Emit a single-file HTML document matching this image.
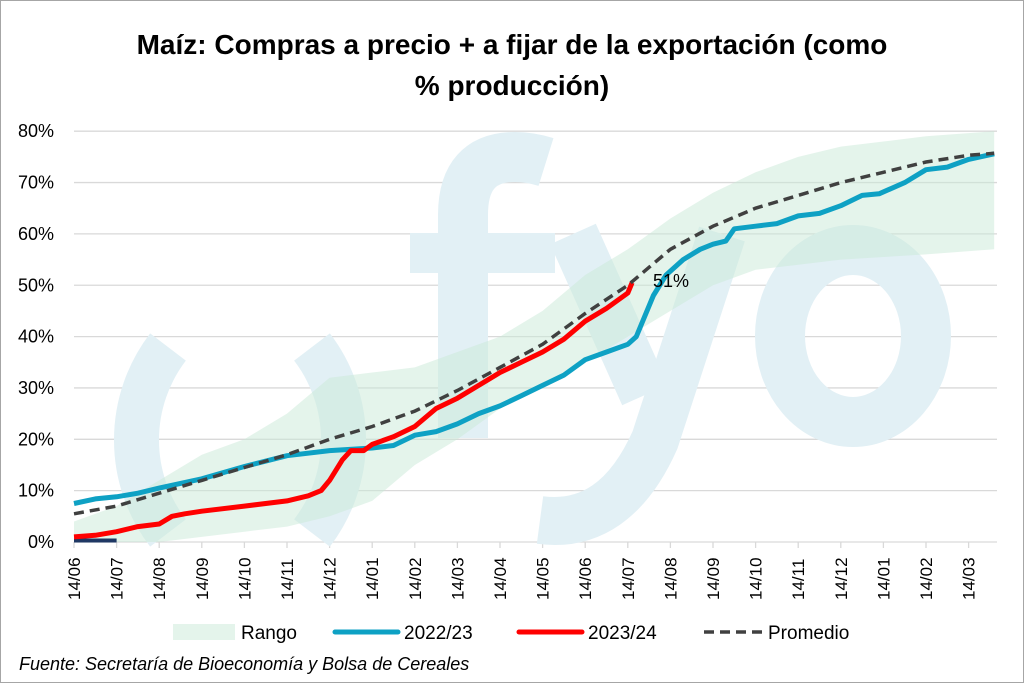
<!DOCTYPE html>
<html><head><meta charset="utf-8"><style>
html,body{margin:0;padding:0;background:#fff}
svg{display:block}
text{font-family:"Liberation Sans","DejaVu Sans",sans-serif}
</style></head><body>
<svg id="s" width="1024" height="683" xmlns="http://www.w3.org/2000/svg">
<rect x="0.5" y="0.5" width="1023" height="682" fill="#fff" stroke="#a6a6a6"/>
<text x="512" y="54" font-size="28" font-weight="bold" text-anchor="middle" fill="#000">Maíz: Compras a precio + a fijar de la exportación (como</text>
<text x="512" y="95" font-size="28" font-weight="bold" text-anchor="middle" fill="#000">% producción)</text>
<g id="grid" stroke="#d9d9d9" stroke-width="1.3"></g>
<g id="wm" fill="none" stroke="#e2f0f5">
<path d="M168,347 A153,153 0 0 0 168,533" stroke-width="45"/>
<path d="M312,347 A153,153 0 0 1 312,533" stroke-width="45"/>
<path d="M463,438 V215 Q463,157 515,157 Q530,157 546,162" stroke-width="50"/>
<rect x="410" y="233" width="145" height="40" fill="#e2f0f5" stroke="none"/>
<path d="M573,234 L645,395" stroke-width="50"/>
<path d="M722,234 L655,440 Q615,530 540,520" stroke-width="48"/>
<ellipse cx="853" cy="336" rx="73" ry="86" stroke-width="50"/>
</g>
<path id="band" fill="#c9ead7" fill-opacity="0.5"/>
<path id="navy" fill="none" stroke="#1f3864" stroke-width="4"/>
<path id="blue" fill="none" stroke="#0ea1c4" stroke-width="5" stroke-linejoin="round"/>
<path id="red" fill="none" stroke="#ff0000" stroke-width="5" stroke-linejoin="round"/>
<path id="avg" fill="none" stroke="#404040" stroke-width="3.5" stroke-dasharray="10,6"/>
<text x="653" y="287" font-size="18" fill="#000">51%</text>
<g id="ylab" font-size="18" fill="#000" text-anchor="end"></g>
<g id="xlab" font-size="17" fill="#000"></g>
<rect x="173" y="624" width="62" height="16" fill="#c9ead7" fill-opacity="0.5"/>
<text x="241" y="639" font-size="19">Rango</text>
<line x1="335" y1="632" x2="398" y2="632" stroke="#0ea1c4" stroke-width="5" stroke-linecap="round"/>
<text x="404" y="639" font-size="19">2022/23</text>
<line x1="519" y1="632" x2="582" y2="632" stroke="#ff0000" stroke-width="5" stroke-linecap="round"/>
<text x="588" y="639" font-size="19">2023/24</text>
<line x1="704" y1="632" x2="762" y2="632" stroke="#404040" stroke-width="3.5" stroke-dasharray="10,6"/>
<text x="768" y="639" font-size="19">Promedio</text>
<text x="19" y="670" font-size="18" font-style="italic" fill="#000">Fuente: Secretaría de Bioeconomía y Bolsa de Cereales</text>
</svg>
<script>
var X=function(m){return 74+42.6*m},Y=function(v){return 542-5.135*v};
var NS="http://www.w3.org/2000/svg";
function el(p,t,a,txt){var e=document.createElementNS(NS,t);for(var k in a)e.setAttribute(k,a[k]);if(txt)e.textContent=txt;document.getElementById(p).appendChild(e);}
for(var i=0;i<=8;i++){var y=Y(i*10);el("grid","line",{x1:74,x2:997,y1:y,y2:y});el("ylab","text",{x:54,y:y+6},i*10+"%");}
var labs=["14/06","14/07","14/08","14/09","14/10","14/11","14/12","14/01","14/02","14/03","14/04","14/05","14/06","14/07","14/08","14/09","14/10","14/11","14/12","14/01","14/02","14/03"];
labs.forEach(function(l,i){var x=X(i);el("grid","line",{x1:x,x2:x,y1:542,y2:548});el("xlab","text",{transform:"translate("+(x+6)+",600) rotate(-90)"},l);});
function P(d){return d.map(function(p,i){return (i?"L":"M")+X(p[0]).toFixed(1)+","+Y(p[1]).toFixed(1)}).join("")}
var up=[[0,4],[1,7],[2,12],[3,17],[4,20],[5,25],[6,32],[7,33],[8,34],[9,37],[10,40],[11,45],[12,52],[13,57],[14,63],[15,68],[16,72],[17,75],[18,77],[19,78],[20,79],[21.6,80]];
var lo=[[0,0],[1,0],[2,0],[3,1],[4,2],[5,3],[6,5],[7,8],[8,15],[9,20],[10,26],[11,30],[12,35],[13,40],[14,45],[15,50],[16,53],[17,54],[18,55],[19,55.5],[20,56],[21.6,57]];
document.getElementById("band").setAttribute("d",P(up)+P(lo.slice().reverse()).replace("M","L")+"Z");
document.getElementById("navy").setAttribute("d",P([[0,0.3],[1,0.3]]));
document.getElementById("blue").setAttribute("d",P([[0,7.5],[0.5,8.4],[1,8.8],[1.5,9.5],[2,10.5],[3,12.3],[4,14.7],[5,16.8],[6,17.8],[7,18.3],[7.5,18.8],[8,20.8],[8.5,21.5],[9,23],[9.5,25],[10,26.5],[10.5,28.5],[11,30.5],[11.5,32.5],[12,35.5],[12.5,37],[13,38.5],[13.2,40],[13.6,48],[13.9,52],[14.3,55],[14.7,57],[15,58],[15.3,58.6],[15.5,61],[16,61.5],[16.5,62],[17,63.5],[17.5,64],[18,65.5],[18.5,67.5],[18.9,67.8],[19.5,70],[20,72.5],[20.5,73],[21,74.5],[21.6,75.6]]));
document.getElementById("red").setAttribute("d",P([[0,1],[0.5,1.3],[1,2],[1.5,3],[2,3.5],[2.3,5],[2.6,5.5],[3,6],[4,7],[5,8],[5.5,9],[5.8,10],[6,12],[6.3,16],[6.5,17.8],[6.8,17.8],[7,19],[7.5,20.5],[8,22.5],[8.5,26],[9,28],[9.5,30.5],[10,33],[10.5,35],[11,37],[11.5,39.5],[12,43],[12.5,45.5],[13,48.5],[13.1,50.5]]));
document.getElementById("avg").setAttribute("d",P([[0,5.5],[1,7],[2,9.5],[3,12],[4,14.5],[5,17],[6,20],[7,22.5],[8,25.5],[9,29.5],[10,34],[11,38.5],[12,44.5],[13,50],[14,57],[15,61.5],[16,65],[17,67.5],[18,70],[19,72],[20,74],[21,75.3],[21.6,75.7]]));
</script>
</body></html>
